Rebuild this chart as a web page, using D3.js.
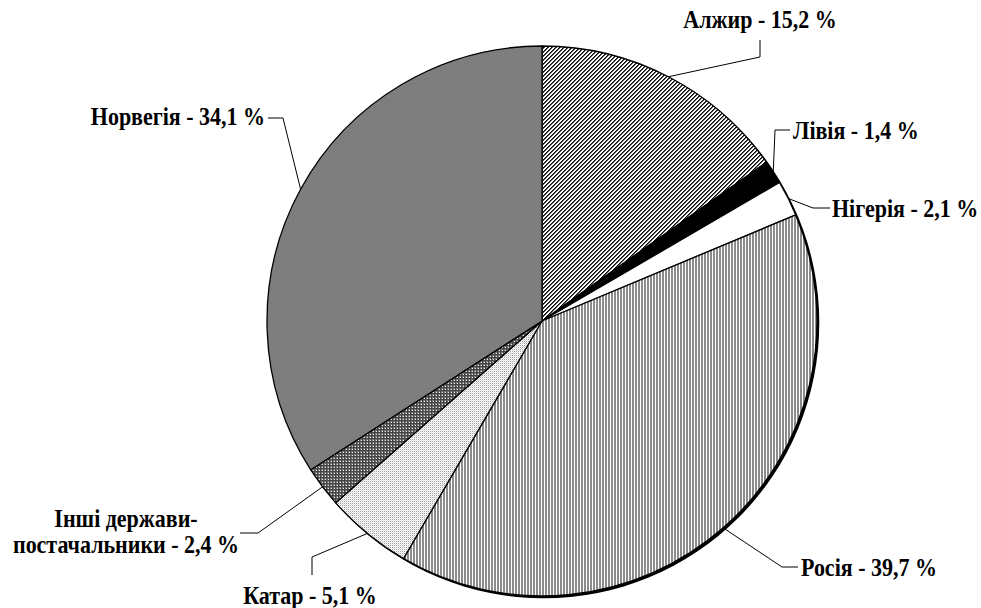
<!DOCTYPE html>
<html>
<head>
<meta charset="utf-8">
<script src="https://cdn.jsdelivr.net/npm/d3@7"></script>
<style>
  html, body { margin: 0; padding: 0; background: #fff; }
  svg { display: block; }
  .lbl { font-family: "Liberation Serif", "Times New Roman", serif; font-weight: bold; font-size: 22px; fill: #000; }
</style>
</head>
<body>
<svg id="chart" width="981" height="608"></svg>
<script>
// Structure of natural gas supplies by supplier country, %
const countries = ["Алжир", "Лівія", "Нігерія", "Росія", "Катар", "Інші держави-постачальники", "Норвегія"];
const shares = [15.2, 1.4, 2.1, 39.7, 5.1, 2.4, 34.1];
const labelLines = [
  ["Алжир - 15,2 %"],
  ["Лівія - 1,4 %"],
  ["Нігерія - 2,1 %"],
  ["Росія - 39,7 %"],
  ["Катар - 5,1 %"],
  ["Інші держави-", "постачальники - 2,4 %"],
  ["Норвегія - 34,1 %"]
];

const W = 981, H = 608;
const cx = 542, cy = 321, R = 275;

const svg = d3.select("#chart");
const defs = svg.append("defs");

// Fill patterns for each slice
function makePattern(id, size, bg, cells) {
  const p = defs.append("pattern")
    .attr("id", id).attr("patternUnits", "userSpaceOnUse")
    .attr("width", size).attr("height", size);
  p.append("rect").attr("width", size).attr("height", size).attr("fill", bg);
  cells.forEach(c => p.append("rect")
    .attr("x", c[0]).attr("y", c[1])
    .attr("width", c[2] || 1).attr("height", c[3] || 1)
    .attr("fill", c[4]));
  p.selectAll("rect").attr("shape-rendering", "crispEdges");
  return `url(#${id})`;
}

const fills = [
  // diagonal hatch
  makePattern("pDiag", 4, "#fff", [
    [0, 3, 1, 1, "#000"], [1, 2, 1, 1, "#000"], [2, 1, 1, 1, "#000"], [3, 0, 1, 1, "#000"],
    [1, 3, 1, 1, "#555"], [2, 2, 1, 1, "#555"], [3, 1, 1, 1, "#555"], [0, 0, 1, 1, "#555"]
  ]),
  "#000",
  "#fff",
  // vertical stripes
  makePattern("pVert", 3, "#fff", [[0, 0, 2, 3, "#8c8c8c"]]),
  // light dots
  makePattern("pDots", 2, "#fff", [[0, 0, 1, 1, "#a0a0a0"], [1, 1, 1, 1, "#e0e0e0"]]),
  // dark check
  makePattern("pCheck", 3, "#777", [[0, 0, 3, 1, "#444"], [0, 0, 1, 3, "#444"], [2, 2, 1, 1, "#eee"]]),
  // dark gray fine texture
  makePattern("pGray", 2, "#838383", [[0, 0, 1, 1, "#767676"], [1, 1, 1, 1, "#7a7a7a"]])
];

const pie = d3.pie().sort(null).value(d => d).startAngle(0).endAngle(2 * Math.PI);
const arcs = pie(shares);
const arc = d3.arc().innerRadius(0).outerRadius(R);

const g = svg.append("g").attr("transform", `translate(${cx},${cy})`);

// darker edge on the lower right
g.append("circle").attr("cx", 1.8).attr("cy", 1.8).attr("r", R + 0.5).attr("fill", "#000");

g.selectAll("path.slice").data(arcs).enter().append("path")
  .attr("class", "slice")
  .attr("d", arc)
  .attr("fill", (d, i) => fills[i])
  .attr("stroke", "#000")
  .attr("stroke-width", 1.3)
  .attr("stroke-linejoin", "round");

// Label placement: leader elbows and text anchors
const layout = [
  { pts: [[760, 57], [760, 40]], x: 760, y: 28, anchor: "middle" },
  { pts: [[775, 130], [790, 130]], x: 793, y: 139, anchor: "start" },
  { pts: [[813, 208], [830, 208]], x: 832, y: 217, anchor: "start" },
  { pts: [[782, 567], [798, 567]], x: 801, y: 576, anchor: "start" },
  { pts: [[312, 557], [312, 575]], x: 310, y: 604, anchor: "middle" },
  { pts: [[258, 533], [240, 533]], x: 126, y: 527, anchor: "middle" },
  { pts: [[283, 118], [268, 118]], x: 265, y: 125, anchor: "end" }
];

const line = d3.line();
arcs.forEach((a, i) => {
  const mid = (a.startAngle + a.endAngle) / 2;
  const edge = [cx + R * Math.sin(mid), cy - R * Math.cos(mid)];
  const L = layout[i];
  svg.append("path")
    .attr("d", line([edge, ...L.pts]))
    .attr("fill", "none")
    .attr("stroke", "#000")
    .attr("stroke-width", 1);
  const t = svg.append("text").attr("class", "lbl")
    .attr("transform", `translate(${L.x},${L.y}) scale(1,1.1)`)
    .attr("text-anchor", L.anchor);
  labelLines[i].forEach((s, k) => {
    t.append("tspan").attr("x", 0).attr("dy", k === 0 ? 0 : 24).text(s);
  });
});
</script>
</body>
</html>
